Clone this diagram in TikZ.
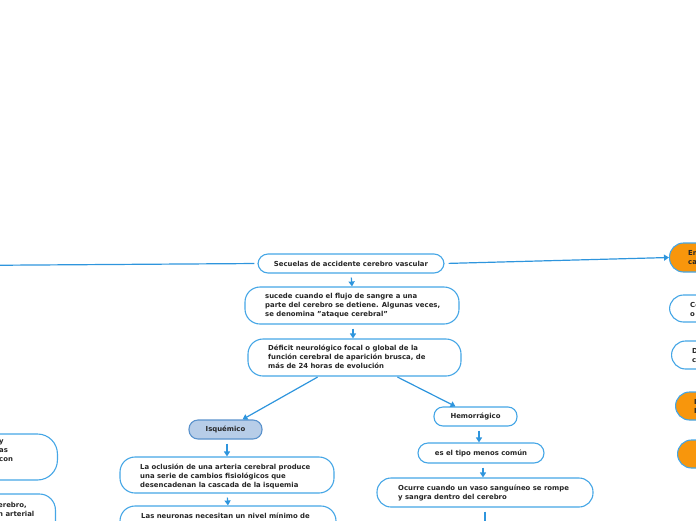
\documentclass[tikz,border=0pt]{standalone}
\usepackage{fontspec}
\setmainfont{DejaVu Sans}
\usetikzlibrary{arrows.meta,calc}
\definecolor{bord}{HTML}{45A6E6}
\definecolor{conn}{HTML}{2E95DD}
\definecolor{orng}{HTML}{F8960C}
\definecolor{isqf}{HTML}{B7CDE8}
\definecolor{isqb}{HTML}{5A92CC}
\newcommand{\tfont}{\fontsize{6.9}{9}\selectfont\bfseries}
\tikzset{
  box/.style={draw=bord, line width=1.1pt, fill=white, rounded corners=#1, inner sep=0pt,
    font=\tfont, text=black!85, align=left},
  box/.default=12pt,
  txt/.style={font=\tfont, text=black!85, align=left, inner sep=0pt},
  conn/.style={draw=conn, line width=1.2pt},
  arr/.style={conn, -{Triangle[length=5pt,width=6pt]}, shorten <=4pt},
}
\begin{document}
\begin{tikzpicture}[x=1pt,y=-1pt]
\useasboundingbox (0,0) rectangle (696,520);

% main column
\node[box=10pt, minimum width=186, minimum height=19, align=center] (root) at (351,263.5) {Secuelas de accidente cerebro vascular};
\node[box=15pt, minimum width=214, minimum height=37] (suc) at (352,305.5) {};
\node[txt, anchor=west] (suct) at (265,306) {sucede cuando el flujo de sangre a una\\parte del cerebro se detiene. Algunas veces,\\se denomina "ataque cerebral"};
\node[box=15pt, minimum width=213, minimum height=37] (def) at (354.5,357.5) {};
\node[txt, anchor=west] (deft) at (268,357) {Déficit neurológico focal o global de la\\función cerebral de aparición brusca, de\\más de 24 horas de evolución};

% left branch
\node[box=9pt, draw=isqb, fill=isqf, minimum width=73, minimum height=19, align=center] (isq) at (225.5,429.5) {Isquémico};
\node[box=15pt, minimum width=214, minimum height=36] (ocl) at (227,475) {};
\node[txt, anchor=west] (oclt) at (140,476) {La oclusión de una arteria cerebral produce\\una serie de cambios fisiológicos que\\desencadenan la cascada de la isquemia};
\node[box=15pt, minimum width=216, minimum height=37] (neu) at (228,524.5) {};
\node[txt, anchor=west] (neut) at (141,516) {Las neuronas necesitan un nivel mínimo de};

% right branch
\node[box=9pt, minimum width=83, minimum height=19, align=center] (hem) at (475.5,416.5) {Hemorrágico};
\node[box=10pt, minimum width=126, minimum height=20, align=center] (com) at (481,453) {es el tipo menos común};
\node[box=14pt, minimum width=216, minimum height=29] (ocu) at (485,492.5) {};
\node[txt, anchor=west] (ocut) at (398,493) {Ocurre cuando un vaso sanguíneo se rompe\\y sangra dentro del cerebro};
\coordinate (ocuend) at (485,530);

% far right column (cut off)
\node[box=14pt, fill=orng, minimum width=120, minimum height=29, anchor=west] (r1) at (669,257.5) {};
\node[txt, anchor=west] (r1t) at (688,258) {En\\ca};
\node[box=14pt, minimum width=120, minimum height=27, anchor=west] (r2) at (669,308.5) {};
\node[txt, anchor=west] (r2t) at (690,309) {Co\\o};
\node[box=14pt, minimum width=120, minimum height=28, anchor=west] (r3) at (671,355) {};
\node[txt, anchor=west] (r3t) at (692,355.5) {D\\c};
\node[box=14pt, fill=orng, minimum width=120, minimum height=28, anchor=west] (r4) at (675,406) {};
\node[txt, anchor=west] (r4t) at (694,406.5) {I\\I};
\node[box=14pt, fill=orng, minimum width=120, minimum height=28, anchor=west] (r5) at (677,454) {};

% far left column (cut off)
\node[box=20pt, minimum width=120, minimum height=46, anchor=east] (l1) at (58,457) {};
\node[txt, anchor=north west] (l1t) at (-1,439.5) {y\\as\\con};
\node[box=16pt, minimum width=120, minimum height=46, anchor=east] (l2) at (56,517) {};
\node[txt, anchor=north west] (l2t) at (-2,502) {erebro,\\n arterial};
\coordinate (lfar) at (-40,265.5);

% connectors
\draw[conn, shorten <=3pt] (root.west) -- (lfar);
\draw[arr] (root.east) -- (r1.west);
\draw[arr] (root.south) -- (suc.north);
\draw[arr] ([xshift=1pt]suc.south) -- ([xshift=-1.5pt]def.north);
\draw[arr, shorten <=1pt] ([xshift=-36pt]def.south) -- ([xshift=17pt]isq.north);
\draw[arr, shorten <=1pt] ([xshift=42pt]def.south) -- ([xshift=-20pt]hem.north);
\draw[arr] ([xshift=1.5pt]isq.south) -- (ocl.north);
\draw[arr] (ocl.south) -- (neu.north);
\draw[arr] ([xshift=3.5pt]hem.south) -- ([xshift=-2pt]com.north);
\draw[arr] ([xshift=2pt]com.south) -- ([xshift=-2pt]ocu.north);
\draw[arr] (ocu.south) -- (ocuend);
\end{tikzpicture}
\end{document}
